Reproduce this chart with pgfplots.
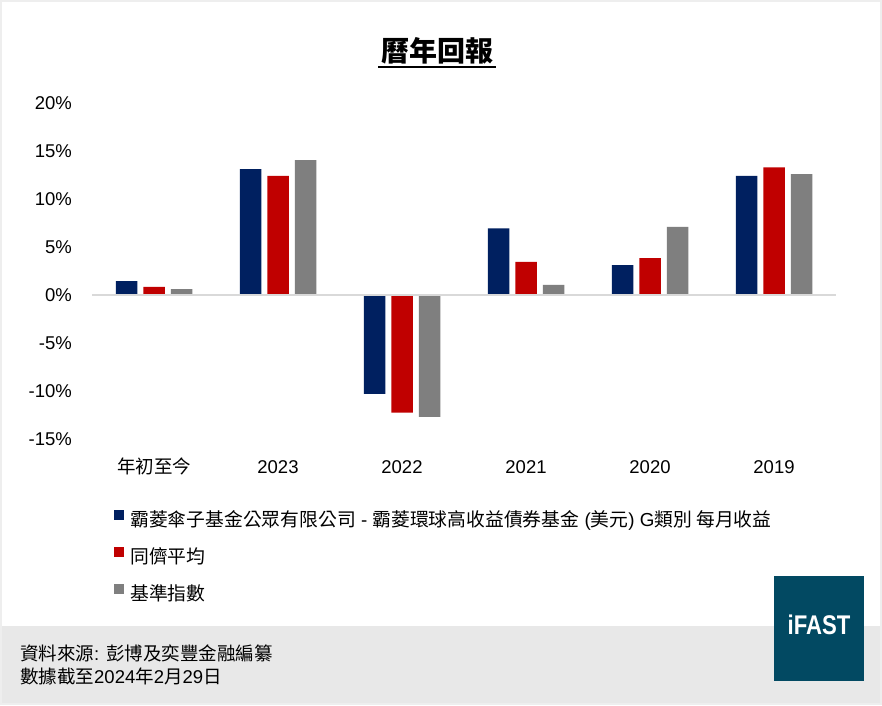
\documentclass[border=0pt]{standalone}
\usepackage{pgfplots}
\pgfplotsset{compat=1.18}
\usepackage{fontspec}
\setmainfont{Liberation Sans}
\newfontfamily\cjk{Noto Sans CJK TC}
\definecolor{navy}{HTML}{002060}
\definecolor{fundred}{HTML}{C00000}
\definecolor{benchgray}{HTML}{7F7F7F}
\definecolor{zeroline}{HTML}{D9D9D9}
\definecolor{footergray}{HTML}{E8E8E8}
\definecolor{framegray}{HTML}{EEEEEE}
\definecolor{logoteal}{RGB}{2,73,98}
\begin{document}
\begin{tikzpicture}[x=1pt,y=1pt]
\path[use as bounding box] (0,0) rectangle (882,705);
\fill[white] (0,0) rectangle (882,705);
\fill[footergray] (0,2) rectangle (882,79);
\draw[framegray, line width=2pt] (1,1) rectangle (881,704);
% title
\node[anchor=base, inner sep=0pt, font=\cjk\bfseries\fontsize{28}{32}\selectfont] at (437,643) {曆年回報};
\draw[black, line width=1.8pt] (378,638) -- (496,638);
\begin{axis}[
  at={(92pt,266pt)}, anchor=south west,
  scale only axis, width=744pt, height=336pt,
  xmin=-0.5, xmax=5.5, ymin=-15, ymax=20,
  axis line style={draw=none},
  major tick length=0pt,
  xtick={0,1,2,3,4,5},
  xticklabels={{\cjk 年初至今},2023,2022,2021,2020,2019},
  xticklabel style={anchor=base, yshift=-34pt, inner sep=0pt, font=\fontsize{18.5}{22}\selectfont},
  ytick={-15,-10,-5,0,5,10,15,20},
  yticklabels={-15\%,-10\%,-5\%,0\%,5\%,10\%,15\%,20\%},
  yticklabel style={anchor=east, xshift=-20pt, inner sep=0pt, font=\fontsize{18.5}{22}\selectfont},
  ybar=6pt, bar width=21.5pt,
  legend cell align=left,
  legend style={at={(0.0296,-0.2113)}, anchor=north west, draw=none, fill=none,
    inner sep=0pt, row sep=17pt, column sep=6pt,
    nodes={inner sep=0pt, text height=14pt, text depth=4pt, font=\fontsize{18.8}{22}\selectfont}},
  legend image code/.code={\fill[#1] (0pt,1pt) rectangle (10pt,11pt);},
]
\addplot[fill=navy, draw=none] coordinates {(0,1.45) (1,13.1) (2,-10.3) (3,6.95) (4,3.1) (5,12.4)};
\addplot[fill=fundred, draw=none] coordinates {(0,0.85) (1,12.4) (2,-12.25) (3,3.45) (4,3.85) (5,13.3)};
\addplot[fill=benchgray, draw=none] coordinates {(0,0.6) (1,14.05) (2,-12.7) (3,1.05) (4,7.1) (5,12.6)};
\legend{{\cjk 霸菱傘子基金公眾有限公司} - {\cjk 霸菱環球高收益債券基金} ({\cjk 美元}) G{\cjk 類別 每月收益},{\cjk 同儕平均},{\cjk 基準指數}}
\draw[zeroline, line width=2pt] (axis cs:-0.5,0) -- (axis cs:5.5,0);
\end{axis}
% footer
\node[anchor=base west, inner sep=0pt, font=\fontsize{18.5}{22}\selectfont] at (20,45) {{\cjk 資料來源}: {\cjk 彭博及奕豐金融編纂}};
\node[anchor=base west, inner sep=0pt, font=\fontsize{18.5}{22}\selectfont] at (20,21.5) {{\cjk 數據截至}2024{\cjk 年}2{\cjk 月}29{\cjk 日}};
% logo
\fill[logoteal] (774,24) rectangle (864,129);
\node[white, inner sep=0pt, font=\bfseries\fontsize{27}{30}\selectfont, xscale=0.82] at (819,80) {iFAST};
\end{tikzpicture}
\end{document}
